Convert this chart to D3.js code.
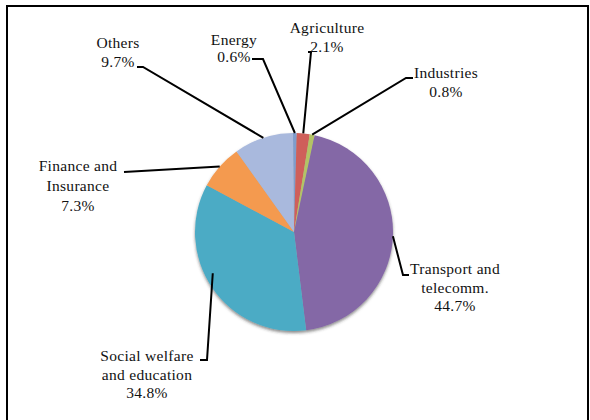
<!DOCTYPE html>
<html>
<head>
<meta charset="utf-8">
<script src="https://cdn.jsdelivr.net/npm/d3@7"></script>
<style>
  html, body { margin: 0; padding: 0; background: #fff; }
  svg { display: block; }
  .leader { fill: none; stroke: #000; stroke-width: 2; }
  .lbl { font-family: Liberation Serif, DejaVu Serif, Times, serif; }
</style>
</head>
<body>
<svg id="chart" width="590" height="420"></svg>
<script>
// Sector shares, clockwise from 12 o'clock
const categories = ["Energy", "Agriculture", "Industries", "Transport and telecomm.",
                    "Social welfare and education", "Finance and Insurance", "Others"];
const values = [0.6, 2.1, 0.8, 44.7, 34.8, 7.3, 9.7];
const labelLines = [
  ["Energy"], ["Agriculture"], ["Industries"], ["Transport and", "telecomm."],
  ["Social welfare", "and education"], ["Finance and", "Insurance"], ["Others"]
];
const colors = ["#7f9dcc", "#cf5f5a", "#b3c365", "#8467a6", "#4babc5", "#f49a4f", "#a9b9dd"];

// Label placement: text centre x, first baseline y, and the leader's bend points
// (leader starts at the slice edge and ends beside the text).
const layout = [
  { x: 234, y: 45, lh: 17, bends: [[263, 59], [252, 59]] },
  { x: 327, y: 33, lh: 19, bends: [[311, 52], [308, 52]] },
  { x: 446, y: 78, lh: 19, bends: [[406, 78], [413, 78]] },
  { x: 455, y: 274, lh: 18.5, bends: [[403, 275], [409, 275]] },
  { x: 147, y: 361, lh: 18.5, bends: [[207, 360], [200, 360]], attach: 0.56, rf: 0.92 },
  { x: 78, y: 171, lh: 20, bends: [[124, 172]] },
  { x: 118, y: 48, lh: 19, bends: [[143, 67], [137, 67]] }
];

const svg = d3.select("#chart");
const cx = 294, cy = 232, r = 99;

// outer frame
svg.append("rect")
  .attr("x", 7).attr("y", 6).attr("width", 581).attr("height", 430)
  .attr("fill", "none").attr("stroke", "#000").attr("stroke-width", 2);

const defs = svg.append("defs");
const sh = defs.append("filter").attr("id", "shadow")
  .attr("x", "-20%").attr("y", "-20%").attr("width", "140%").attr("height", "140%");
sh.append("feDropShadow").attr("dx", 0).attr("dy", 2).attr("stdDeviation", 1.6)
  .attr("flood-color", "#333").attr("flood-opacity", 0.55);
const soft = defs.append("filter").attr("id", "soft");
soft.append("feGaussianBlur").attr("stdDeviation", 0.6);

const pie = d3.pie().sort(null).value(d => d)
  .startAngle(-0.01).endAngle(2 * Math.PI - 0.01);
const arcs = pie(values);
const arc = d3.arc().innerRadius(0).outerRadius(r);

const g = svg.append("g").attr("transform", `translate(${cx},${cy})`);
const pieG = g.append("g").attr("filter", "url(#shadow)");
pieG.append("g").attr("filter", "url(#soft)")
  .selectAll("path")
  .data(arcs)
  .join("path")
  .attr("d", arc)
  .attr("fill", (d, i) => colors[i]);

// leader lines
arcs.forEach((d, i) => {
  const L = layout[i];
  const t = L.attach ?? 0.5;
  const a = d.startAngle + (d.endAngle - d.startAngle) * t;
  const rr = r * (L.rf ?? 1);
  const start = [cx + rr * Math.sin(a), cy - rr * Math.cos(a)];
  const pts = [start, ...L.bends];
  svg.append("path").attr("class", "leader")
    .attr("d", d3.line()(pts));
});

// labels
arcs.forEach((d, i) => {
  const L = layout[i];
  const lines = [...labelLines[i], d.data.toFixed(1) + "%"];
  const txt = svg.append("text")
    .attr("class", "lbl")
    .attr("font-size", 15.5)
    .attr("fill", "#111")
    .attr("letter-spacing", 0.3)
    .attr("text-anchor", "middle");
  lines.forEach((s, k) => {
    txt.append("tspan").attr("x", L.x).attr("y", L.y + k * L.lh).text(s);
  });
});
</script>
</body>
</html>
